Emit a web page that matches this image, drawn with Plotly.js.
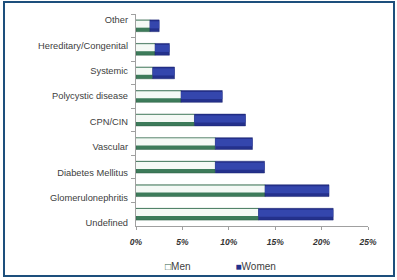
<!DOCTYPE html>
<html>
<head>
<meta charset="utf-8">
<script src="https://cdn.plot.ly/plotly-3.0.1.min.js"></script>
<style>
html, body { margin: 0; padding: 0; background: #ffffff; }
#wrap { position: relative; width: 397px; height: 280px; }
#chart { width: 397px; height: 280px; }
#frame { position: absolute; left: 3px; top: 1px; width: 392px; height: 276px; box-sizing: border-box; border: 2px solid #1d4f7c; pointer-events: none; }
</style>
</head>
<body>
<div id="wrap">
  <div id="chart"></div>
  <div id="frame"></div>
</div>
<script>
// Categories listed top to bottom
var categories = ["Other", "Hereditary/Congenital", "Systemic", "Polycystic disease", "CPN/CIN",
                  "Vascular", "Diabetes Mellitus", "Glomerulonephritis", "Undefined"];
var menValues   = [1.5, 2.05, 1.8, 4.85, 6.3, 8.55, 8.55, 13.9, 13.2];
var womenValues = [1.0, 1.55, 2.35, 4.45, 5.5, 4.0, 5.3, 6.9, 8.05];
var xTickValues = [0, 5, 10, 15, 20, 25];
var xTickLabels = ["0%", "5%", "10%", "15%", "20%", "25%"];
var seriesNames = ["Men", "Women"];

var BAR_W = 0.5, HI_W = 0.3, OFF = -0.25;

var traces = [
  { type: "bar", orientation: "h", name: seriesNames[0], y: categories, x: menValues,
    width: BAR_W, offset: OFF,
    marker: { color: "#3d7b5a", line: { color: "#2c5e44", width: 0.5 } },
    hoverinfo: "x+y", showlegend: false },
  { type: "bar", orientation: "h", name: seriesNames[0], y: categories, x: menValues,
    width: HI_W, offset: OFF + 0.03,
    marker: { color: "#f4f9f5", line: { width: 0 } },
    hoverinfo: "skip", showlegend: false },
  { type: "bar", orientation: "h", name: seriesNames[1], y: categories, x: womenValues, base: menValues,
    width: BAR_W, offset: OFF,
    marker: { color: "#24318c", line: { color: "#1b2470", width: 0.5 } },
    hoverinfo: "x+y", showlegend: false },
  { type: "bar", orientation: "h", name: seriesNames[1], y: categories, x: womenValues, base: menValues,
    width: HI_W, offset: OFF + 0.06,
    marker: { color: "#3446ad", line: { width: 0 } },
    hoverinfo: "skip", showlegend: false },
  // invisible trace carrying the category labels on the label axis
  { type: "scatter", mode: "markers", y: categories, x: menValues, yaxis: "y2",
    marker: { size: 1, color: "rgba(0,0,0,0)" }, hoverinfo: "skip", showlegend: false },
  // legend entries (symbols drawn as glyphs in the text)
  { type: "scatter", mode: "markers",
    name: '<span style="color:#2f6048">\u25A1</span>' + seriesNames[0],
    x: [null], y: [null], marker: { size: 1, color: "rgba(0,0,0,0)", line: { width: 0 } } },
  { type: "scatter", mode: "markers",
    name: '<span style="color:#24318c">\u25A0</span>' + seriesNames[1],
    x: [null], y: [null], marker: { size: 1, color: "rgba(0,0,0,0)", line: { width: 0 } } }
];

var layout = {
  width: 397, height: 280,
  margin: { l: 136, r: 29, t: 14, b: 54 },
  paper_bgcolor: "#ffffff", plot_bgcolor: "#ffffff",
  barmode: "overlay",
  font: { family: "Liberation Sans, Arial, sans-serif", size: 10, color: "#404040" },
  xaxis: {
    range: [0, 25], tickvals: xTickValues, ticktext: xTickLabels,
    showgrid: false, zeroline: false, showline: true, linecolor: "#a0a0a0", linewidth: 1,
    ticks: "outside", ticklen: 3, tickcolor: "#a0a0a0", ticklabelstandoff: 5,
    tickfont: { family: "Liberation Sans, Arial, sans-serif", size: 8.5, color: "#333333", weight: "bold", style: "italic" },
    fixedrange: true
  },
  yaxis: {
    type: "category", categoryorder: "array", categoryarray: categories, autorange: "reversed",
    showgrid: false, zeroline: false, showline: true, linecolor: "#a0a0a0", linewidth: 1,
    ticks: "outside", ticklen: 4, tickcolor: "#a0a0a0", tickson: "boundaries",
    showticklabels: false, fixedrange: true
  },
  yaxis2: {
    type: "category", categoryorder: "array", categoryarray: categories,
    overlaying: "y", side: "left", anchor: "x",
    range: [8.118, -0.236],
    showgrid: false, zeroline: false, showline: false, ticks: "",
    ticklabelstandoff: 7,
    tickfont: { family: "Liberation Sans, Arial, sans-serif", size: 9.3, color: "#404040" },
    fixedrange: true
  },
  legend: {
    orientation: "h", xref: "container", yref: "container",
    x: 0.315, xanchor: "left", y: 0.05, yanchor: "middle",
    font: { size: 10, color: "#404040" },
    itemwidth: 30, traceorder: "normal", bgcolor: "rgba(0,0,0,0)"
  },
  showlegend: true
};

Plotly.newPlot("chart", traces, layout, { displayModeBar: false, staticPlot: true });
</script>
</body>
</html>
